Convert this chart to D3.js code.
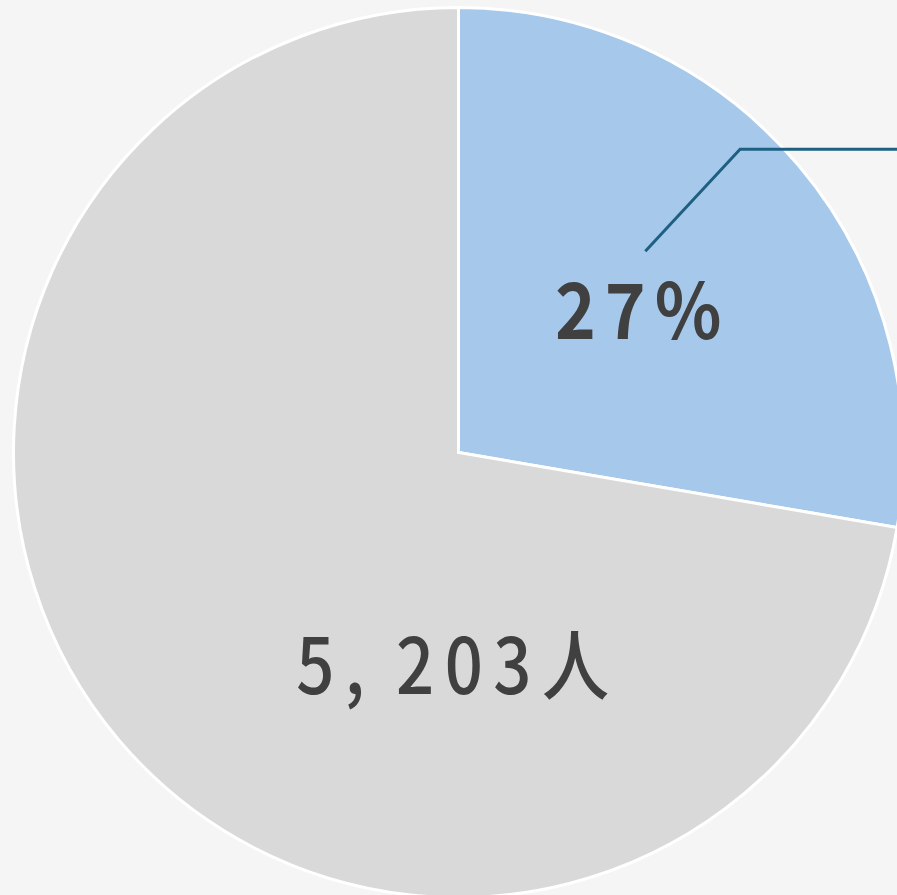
<!DOCTYPE html>
<html>
<head>
<meta charset="utf-8">
<script src="https://cdn.jsdelivr.net/npm/d3@7"></script>
<style>
  html, body { margin: 0; padding: 0; background: #f5f5f5; }
  svg { display: block; }
  .pieLabel { font-family: "Noto Sans CJK JP", "Noto Sans", sans-serif; fill: #404040; }
</style>
</head>
<body>
<div id="pie"></div>
<script>
// chart values
var categories = ["対象", "その他"];
var counts = [1993, 5203];
var sliceColors = ["#a6c9eb", "#d9d9d9"];

var svgWidth = 897;
var svgHeight = 895;
var cx = 458.5, cy = 452.5;
var radius = 445;

var svg = d3.select("#pie").append("svg").attr("width", svgWidth).attr("height", svgHeight);
var chartGroup = svg.append("g").attr("transform", `translate(${cx}, ${cy})`);

var pie = d3.pie().sort(null).value(d => d);
var slices = pie(counts);
var total = d3.sum(counts);

var arc = d3.arc().innerRadius(0).outerRadius(radius);

chartGroup.selectAll("path.slice").data(slices).enter()
  .append("path")
  .attr("class", "slice")
  .attr("d", arc)
  .attr("fill", (d, i) => sliceColors[i])
  .attr("stroke", "#ffffff")
  .attr("stroke-width", 3)
  .attr("stroke-linejoin", "miter");

// polar helper (angle from 12 o'clock, clockwise)
function polar(angle, r) {
  return [Math.sin(angle) * r, -Math.cos(angle) * r];
}

// leader line for the blue slice
var leadAngle = slices[0].startAngle + (slices[0].endAngle - slices[0].startAngle) * 0.43;
var p1 = polar(leadAngle, radius * 0.617);
var p2 = polar(leadAngle, radius * 0.93);
var p3 = [svgWidth - cx, p2[1]];
chartGroup.append("polyline")
  .attr("points", [p1, p2, p3].map(p => p.join(",")).join(" "))
  .attr("fill", "none")
  .attr("stroke", "#1f6082")
  .attr("stroke-width", 3);

// percentage label
var pctAngle = slices[0].startAngle + (slices[0].endAngle - slices[0].startAngle) * 0.52;
var pctPos = polar(pctAngle, radius * 0.515);
chartGroup.append("text")
  .attr("class", "pieLabel")
  .attr("transform", `translate(${pctPos[0] + 4}, ${pctPos[1] + 28}) scale(0.9, 1)`)
  .attr("text-anchor", "middle")
  .attr("font-size", "77px")
  .attr("font-weight", 700)
  .attr("letter-spacing", "10px")
  .text(Math.floor(counts[0] / total * 100) + "%");

// count label for the gray slice
var cntParts = d3.format(",")(counts[1]).split(",");
var cntPos = polar(Math.PI * 1.01, radius * 0.48);
var cntText = chartGroup.append("text")
  .attr("class", "pieLabel")
  .attr("transform", `translate(${cntPos[0] + 6}, ${cntPos[1] + 28}) scale(0.87, 1)`)
  .attr("text-anchor", "middle")
  .attr("font-size", "77px")
  .attr("font-weight", 500)
  .attr("letter-spacing", "12px");
cntText.append("tspan").text(cntParts[0] + ",");
cntText.append("tspan").attr("dx", 24).text(cntParts[1] + "人");
</script>
</body>
</html>
